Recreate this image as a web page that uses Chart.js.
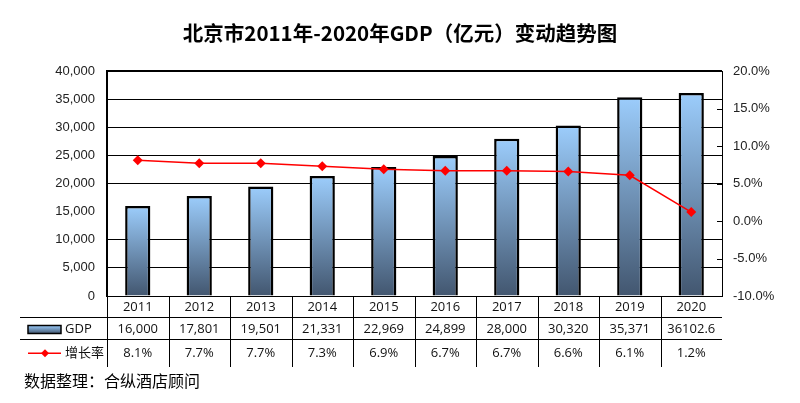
<!DOCTYPE html>
<html><head><meta charset="utf-8">
<script src="https://cdn.jsdelivr.net/npm/chart.js@4"></script>
<style>html,body{margin:0;padding:0;background:#fff}#wrap{width:800px;height:403px;position:relative}</style>
</head><body><div id="wrap"><canvas id="c" width="800" height="403"></canvas></div>
<script>
const years = ['2011','2012','2013','2014','2015','2016','2017','2018','2019','2020'];
const gdp = [16000, 17801, 19501, 21331, 22969, 24899, 28000, 30320, 35371, 36102.6];
const growth = [8.1, 7.7, 7.7, 7.3, 6.9, 6.7, 6.7, 6.6, 6.1, 1.2];
const gdpAxis = {min: 0, max: 40000, step: 5000};
const rateAxis = {min: -10, max: 20, step: 5};
const titleText = '北京市2011年-2020年GDP（亿元）变动趋势图';
const seriesNames = ['GDP', '增长率'];
const sourceText = '数据整理：合纵酒店顾问';

const LIGHT = '#9ccdfc', DARK = '#42566f';
const tableFont = '13px "Open Sans", "Noto Sans CJK SC", sans-serif';
const fmtGdp = v => Number.isInteger(v) ? v.toLocaleString('en-US') : String(v);
const fmtRate = v => v.toFixed(1) + '%';

function barGradient(c) {
  const chart = c.chart;
  const ys = chart.scales && chart.scales.y;
  if (!ys || c.raw === undefined) return LIGHT;
  const top = ys.getPixelForValue(c.raw), bot = ys.getPixelForValue(0);
  if (!isFinite(top) || !isFinite(bot) || top === bot) return LIGHT;
  const g = chart.ctx.createLinearGradient(0, top, 0, bot);
  g.addColorStop(0, LIGHT);
  g.addColorStop(1, DARK);
  return g;
}

const tablePlugin = {
  id: 'table',
  afterDraw(chart) {
    const ctx = chart.ctx, ca = chart.chartArea, xs = chart.scales.x, y1 = chart.scales.y1;
    const n = years.length, colW = (ca.right - ca.left) / n;
    ctx.save();
    ctx.strokeStyle = '#000'; ctx.lineWidth = 1;
    y1.ticks.forEach(t => {
      const py = Math.round(y1.getPixelForValue(t.value)) + 0.5;
      ctx.beginPath(); ctx.moveTo(ca.right - 5, py); ctx.lineTo(ca.right, py); ctx.stroke();
    });
    const top = ca.bottom, r1 = Math.round(ca.bottom + 21) + 0.5, r2 = Math.round(ca.bottom + 43) + 0.5, bottom = ca.bottom + 71;
    ctx.beginPath();
    ctx.moveTo(20, r1); ctx.lineTo(ca.right, r1);
    ctx.moveTo(20, r2); ctx.lineTo(ca.right, r2);
    for (let i = 0; i < n; i++) {
      const x = Math.round(ca.left + i * colW) + 0.5;
      ctx.moveTo(x, top); ctx.lineTo(x, bottom);
    }
    ctx.stroke();
    ctx.fillStyle = '#111'; ctx.font = tableFont;
    ctx.textAlign = 'center'; ctx.textBaseline = 'middle';
    const yYear = (top + r1) / 2 + 1, yG = (r1 + r2) / 2 + 1, yR = (r2 + bottom) / 2;
    years.forEach((yr, i) => {
      const cx = xs.getPixelForValue(i);
      ctx.fillText(yr, cx, yYear);
      ctx.fillText(fmtGdp(gdp[i]), cx, yG);
      ctx.fillText(fmtRate(growth[i]), cx, yR);
    });
    const g = ctx.createLinearGradient(0, yG - 4, 0, yG + 4);
    g.addColorStop(0, LIGHT); g.addColorStop(1, DARK);
    ctx.fillStyle = g; ctx.fillRect(28, yG - 4, 33, 8);
    ctx.strokeStyle = '#000'; ctx.lineWidth = 1.5; ctx.strokeRect(28, yG - 4, 33, 8);
    ctx.strokeStyle = '#ff0000'; ctx.lineWidth = 1.5;
    ctx.beginPath(); ctx.moveTo(28, yR); ctx.lineTo(61, yR); ctx.stroke();
    ctx.fillStyle = '#ff0000';
    ctx.beginPath(); ctx.moveTo(45, yR - 4); ctx.lineTo(49, yR); ctx.lineTo(45, yR + 4); ctx.lineTo(41, yR); ctx.closePath(); ctx.fill();
    ctx.fillStyle = '#111'; ctx.textAlign = 'left';
    ctx.fillText(seriesNames[0], 65, yG);
    ctx.fillText(seriesNames[1], 65, yR);
    ctx.font = '16px "Noto Sans CJK SC", sans-serif';
    ctx.fillStyle = '#000';
    ctx.fillText(sourceText, 24, 381);
    ctx.restore();
  }
};

new Chart(document.getElementById('c'), {
  data: {
    labels: years,
    datasets: [
      {
        type: 'line', label: seriesNames[1], data: growth, yAxisID: 'y1', order: 0,
        borderColor: '#ff0000', borderWidth: 1.5, tension: 0,
        pointStyle: 'rectRot', pointRadius: 5, pointBackgroundColor: '#ff0000', pointBorderWidth: 0
      },
      {
        type: 'bar', label: seriesNames[0], data: gdp, yAxisID: 'y', order: 1,
        backgroundColor: barGradient, borderColor: '#000', borderWidth: 2.5, borderSkipped: 'bottom',
        barPercentage: 0.41, categoryPercentage: 1
      }
    ]
  },
  options: {
    responsive: false, animation: false, devicePixelRatio: 1,
    layout: {padding: {left: 0, right: 0, top: 0, bottom: 107}},
    plugins: {
      legend: {display: false}, tooltip: {enabled: false},
      title: {
        display: true, text: titleText, color: '#000',
        font: {family: '"Noto Sans CJK SC", sans-serif', size: 20.5, weight: 'bold', lineHeight: 1.18},
        padding: {top: 21, bottom: 26}
      }
    },
    scales: {
      x: {display: false, offset: true},
      y: {
        position: 'left', min: gdpAxis.min, max: gdpAxis.max,
        afterFit: s => { s.width = 107; },
        ticks: {stepSize: gdpAxis.step, padding: 12, color: '#222',
          font: {family: '"Liberation Sans", Arial, sans-serif', size: 13},
          callback: v => v.toLocaleString('en-US')},
        grid: {drawTicks: false,
          color: c => (c.tick && c.tick.value === 15000) ? 'rgba(0,0,0,0)' : '#000',
          lineWidth: c => (c.tick && c.tick.value === gdpAxis.max) ? 2 : 1},
        border: {display: true, color: '#000', width: 2}
      },
      y1: {
        position: 'right', min: rateAxis.min, max: rateAxis.max,
        afterFit: s => { s.width = 78; },
        ticks: {stepSize: rateAxis.step, padding: 11, color: '#222',
          font: {family: '"Liberation Sans", Arial, sans-serif', size: 13},
          callback: v => v.toFixed(1) + '%'},
        grid: {display: false, drawTicks: false},
        border: {display: true, color: '#000', width: 1}
      }
    }
  },
  plugins: [tablePlugin]
});
</script>
</body></html>
